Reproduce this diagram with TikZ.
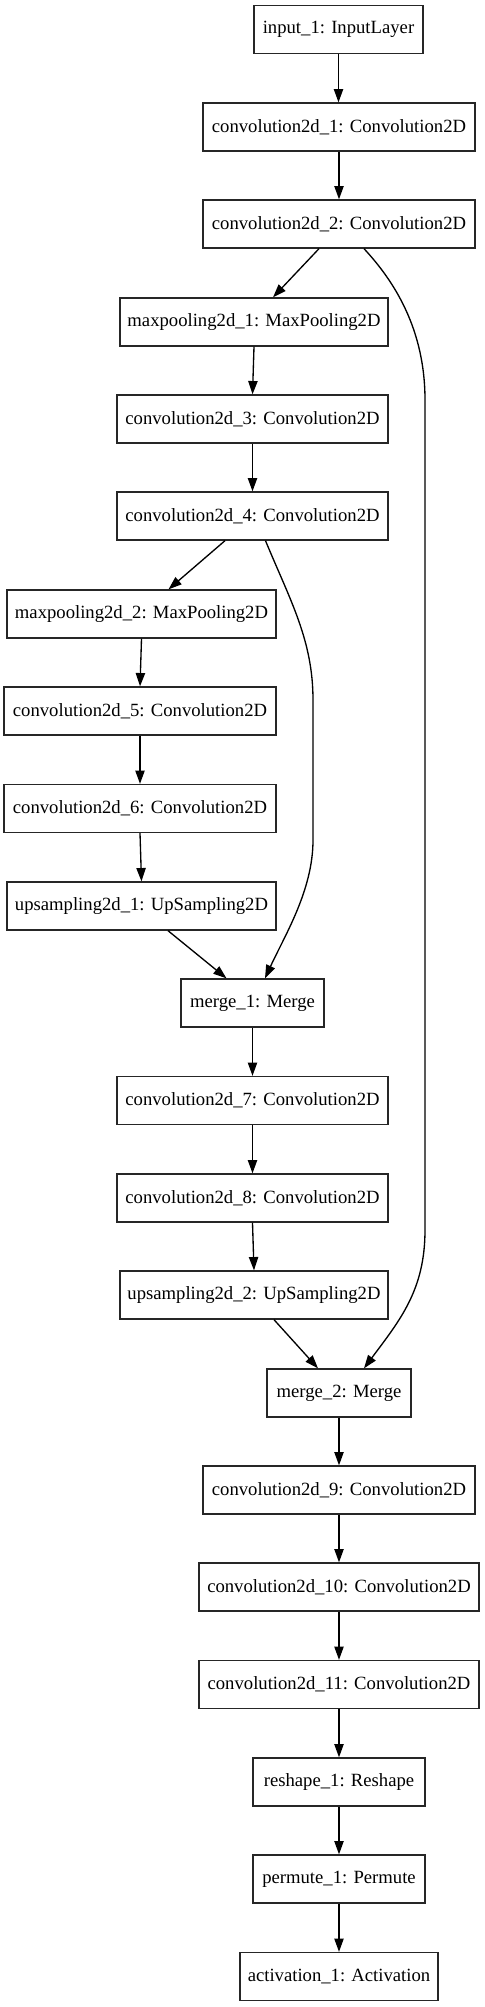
\documentclass[tikz,border=0pt]{standalone}
\usepackage{fontspec}
\setmainfont{Liberation Serif}
\usetikzlibrary{arrows.meta}
\begin{document}
\begin{tikzpicture}[x=1bp,y=-1bp,
  layer/.style={draw=black!85, line width=1.33bp, minimum height=48bp, inner xsep=0pt, inner ysep=0pt,
    font=\fontsize{18.67bp}{22bp}\selectfont, anchor=center},
  conn/.style={line width=1.33bp, -{Triangle[length=13.3bp,width=9.3bp]}}]
\fill[white] (0,0) rectangle (485,2007);
\useasboundingbox (0,0) rectangle (485,2007);
\node[layer, minimum width=169bp] (in1) at (338.5,29.5) {input\_1: InputLayer};
\node[layer, minimum width=272bp] (c1) at (339,127) {convolution2d\_1: Convolution2D};
\node[layer, minimum width=272bp] (c2) at (339,224) {convolution2d\_2: Convolution2D};
\node[layer, minimum width=268bp] (mp1) at (254,322) {maxpooling2d\_1: MaxPooling2D};
\node[layer, minimum width=271bp] (c3) at (252.5,419) {convolution2d\_3: Convolution2D};
\node[layer, minimum width=271bp] (c4) at (252.5,516) {convolution2d\_4: Convolution2D};
\node[layer, minimum width=269bp] (mp2) at (141.5,614) {maxpooling2d\_2: MaxPooling2D};
\node[layer, minimum width=272bp] (c5) at (140,711) {convolution2d\_5: Convolution2D};
\node[layer, minimum width=272bp] (c6) at (140,808.5) {convolution2d\_6: Convolution2D};
\node[layer, minimum width=269bp] (up1) at (141.5,906) {upsampling2d\_1: UpSampling2D};
\node[layer, minimum width=143bp] (m1) at (252.5,1003) {merge\_1: Merge};
\node[layer, minimum width=271bp] (c7) at (252.5,1100.5) {convolution2d\_7: Convolution2D};
\node[layer, minimum width=271bp] (c8) at (252.5,1198) {convolution2d\_8: Convolution2D};
\node[layer, minimum width=268bp] (up2) at (254,1295) {upsampling2d\_2: UpSampling2D};
\node[layer, minimum width=144bp] (m2) at (339,1393) {merge\_2: Merge};
\node[layer, minimum width=272bp] (c9) at (339,1490) {convolution2d\_9: Convolution2D};
\node[layer, minimum width=280bp] (c10) at (339,1587) {convolution2d\_10: Convolution2D};
\node[layer, minimum width=280bp] (c11) at (339,1684.5) {convolution2d\_11: Convolution2D};
\node[layer, minimum width=172bp] (rs) at (339,1782) {reshape\_1: Reshape};
\node[layer, minimum width=172bp] (pm) at (339,1879) {permute\_1: Permute};
\node[layer, minimum width=198bp] (act) at (339,1976.5) {activation\_1: Activation};
% straight edges
\draw[conn] (in1.south) -- (in1.south |- c1.north);
\draw[conn] (c1.south) -- (c1.south |- c2.north);
\draw[conn] (mp1.south) -- (c3.north);
\draw[conn] (c3.south) -- (c4.north);
\draw[conn] (mp2.south) -- (c5.north);
\draw[conn] (c5.south) -- (c6.north);
\draw[conn] (c6.south) -- (up1.north);
\draw[conn] (m1.south) -- (c7.north);
\draw[conn] (c7.south) -- (c8.north);
\draw[conn] (c8.south) -- (up2.north);
\draw[conn] (m2.south) -- (c9.north);
\draw[conn] (c9.south) -- (c10.north);
\draw[conn] (c10.south) -- (c11.north);
\draw[conn] (c11.south) -- (rs.north);
\draw[conn] (rs.south) -- (pm.north);
\draw[conn] (pm.south) -- (act.north);
% diagonal edges
\draw[conn] ([xshift=-20bp]c2.south) -- ([xshift=19bp]mp1.north);
\draw[conn] ([xshift=-27.5bp]c4.south) -- ([xshift=27bp]mp2.north);
\draw[conn] ([xshift=26.5bp]up1.south) -- ([xshift=-26bp]m1.north);
\draw[conn] ([xshift=20bp]up2.south) -- ([xshift=-21bp]m2.north);
% skip connections
\draw[conn] ([xshift=25bp]c2.south) .. controls (395,282) and (425,330) .. (425,400)
  -- (425,1230) .. controls (425,1290) and (400,1320) .. ([xshift=25bp]m2.north);
\draw[conn] ([xshift=13bp]c4.south) .. controls (290,600) and (313,640) .. (313,700)
  -- (313,840) .. controls (313,890) and (285,935) .. ([xshift=12.5bp]m1.north);
\end{tikzpicture}
\end{document}
